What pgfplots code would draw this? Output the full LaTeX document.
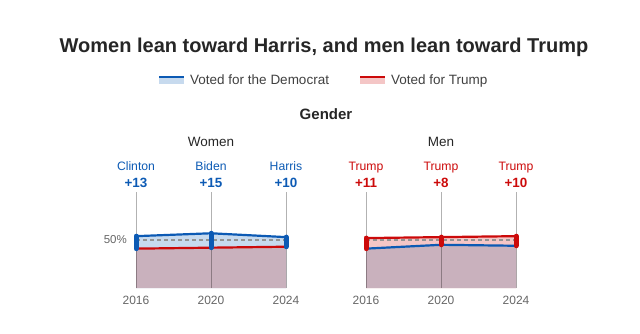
\documentclass[border=0pt]{standalone}
\usepackage{pgfplots}
\pgfplotsset{compat=1.18}
\usepackage{fontspec}
\setmainfont{Liberation Sans}
\definecolor{dblue}{HTML}{0C5AB4}
\definecolor{rred}{HTML}{CC0A0A}
\definecolor{lblue}{HTML}{C7DAEE}
\definecolor{lpink}{HTML}{F4C6C6}
\definecolor{mauve}{HTML}{C9B1BD}
\definecolor{titlec}{HTML}{262626}
\definecolor{txt}{HTML}{404040}
\definecolor{yearc}{HTML}{666666}
\pgfplotsset{panel/.style={
  scale only axis, width=150pt, height=96pt,
  xmin=2016, xmax=2024, ymin=0, ymax=100,
  axis line style={draw=none}, tick style={draw=none},
  xtick={2016,2020,2024}, xticklabels={2016,2020,2024},
  xticklabel style={font=\fontsize{12}{14}\selectfont, text=yearc, anchor=center, yshift=-12pt},
  ytick=\empty, clip=false,
  /pgf/number format/assume math mode=true}}
\begin{document}
\begin{tikzpicture}
\path[use as bounding box] (0pt,0pt) rectangle (640pt,-334pt);
\node[font=\fontsize{20}{23}\selectfont\bfseries, text=titlec] at (324pt,-47pt) {Women lean toward Harris, and men lean toward Trump};
% legend
\fill[lblue] (159pt,-78pt) rectangle (184pt,-84.5pt);
\draw[dblue, line width=2pt] (159pt,-77.5pt)--(184pt,-77.5pt);
\node[anchor=base west, font=\fontsize{13.5}{16}\selectfont, text=txt, inner sep=0pt] at (190pt,-85pt) {Voted for the Democrat};
\fill[lpink] (360pt,-78pt) rectangle (385pt,-84.5pt);
\draw[rred, line width=2pt] (360pt,-77.5pt)--(385pt,-77.5pt);
\node[anchor=base west, font=\fontsize{13.5}{16}\selectfont, text=txt, inner sep=0pt] at (391pt,-85pt) {Voted for Trump};
\node[font=\fontsize{15}{18}\selectfont\bfseries, text=titlec] at (326pt,-114pt) {Gender};
\node[font=\fontsize{13.5}{16}\selectfont, text=titlec] at (211pt,-142pt) {Women};
\node[font=\fontsize{13.5}{16}\selectfont, text=titlec] at (441pt,-142pt) {Men};

% Women
\begin{axis}[panel, at={(136pt,-288pt)}, anchor=south west,
  ytick={50}, yticklabels={50\%},
  yticklabel style={font=\fontsize{11.5}{14}\selectfont, text=yearc, anchor=east, inner sep=0pt, xshift=-9pt}]
\addplot[fill=lblue, draw=none] coordinates {(2016,54)(2020,57)(2024,53)} \closedcycle;
\addplot[fill=mauve, draw=none] coordinates {(2016,41)(2020,42)(2024,43)} \closedcycle;
\addplot[black, opacity=0.3, line width=0.6pt] coordinates {(2016,0)(2016,100)};
\addplot[black, opacity=0.3, line width=0.6pt] coordinates {(2020,0)(2020,100)};
\addplot[black, opacity=0.3, line width=0.6pt] coordinates {(2024,0)(2024,100)};
\addplot[gray!85, dash pattern=on 4pt off 3pt, line width=1.1pt] coordinates {(2016,50)(2024,50)};
\addplot[rred, line width=2.2pt] coordinates {(2016,41)(2020,42)(2024,43)};
\addplot[dblue, line width=2.2pt] coordinates {(2016,54)(2020,57)(2024,53)};
\addplot[dblue, line width=5pt, line cap=round] coordinates {(2016,41)(2016,54)};
\addplot[dblue, line width=5pt, line cap=round] coordinates {(2020,42)(2020,57)};
\addplot[dblue, line width=5pt, line cap=round] coordinates {(2024,43)(2024,53)};
\node[anchor=base, yshift=22pt, font=\fontsize{12.2}{14}\selectfont, text=dblue] at (axis cs:2016,100) {Clinton};
\node[anchor=base, yshift=22pt, font=\fontsize{12.2}{14}\selectfont, text=dblue] at (axis cs:2020,100) {Biden};
\node[anchor=base, yshift=22pt, font=\fontsize{12.2}{14}\selectfont, text=dblue] at (axis cs:2024,100) {Harris};
\node[anchor=base, yshift=5pt, font=\fontsize{13.4}{16}\selectfont\bfseries, text=dblue] at (axis cs:2016,100) {+13};
\node[anchor=base, yshift=5pt, font=\fontsize{13.4}{16}\selectfont\bfseries, text=dblue] at (axis cs:2020,100) {+15};
\node[anchor=base, yshift=5pt, font=\fontsize{13.4}{16}\selectfont\bfseries, text=dblue] at (axis cs:2024,100) {+10};
\end{axis}

% Men
\begin{axis}[panel, at={(366pt,-288pt)}, anchor=south west]
\addplot[fill=lpink, draw=none] coordinates {(2016,52)(2020,53)(2024,54)} \closedcycle;
\addplot[fill=mauve, draw=none] coordinates {(2016,41)(2020,45)(2024,44)} \closedcycle;
\addplot[black, opacity=0.3, line width=0.6pt] coordinates {(2016,0)(2016,100)};
\addplot[black, opacity=0.3, line width=0.6pt] coordinates {(2020,0)(2020,100)};
\addplot[black, opacity=0.3, line width=0.6pt] coordinates {(2024,0)(2024,100)};
\addplot[gray!85, dash pattern=on 4pt off 3pt, line width=1.1pt] coordinates {(2016,50)(2024,50)};
\addplot[dblue, line width=2.2pt] coordinates {(2016,41)(2020,45)(2024,44)};
\addplot[rred, line width=2.2pt] coordinates {(2016,52)(2020,53)(2024,54)};
\addplot[rred, line width=5pt, line cap=round] coordinates {(2016,41)(2016,52)};
\addplot[rred, line width=5pt, line cap=round] coordinates {(2020,45)(2020,53)};
\addplot[rred, line width=5pt, line cap=round] coordinates {(2024,44)(2024,54)};
\node[anchor=base, yshift=22pt, font=\fontsize{12.2}{14}\selectfont, text=rred] at (axis cs:2016,100) {Trump};
\node[anchor=base, yshift=22pt, font=\fontsize{12.2}{14}\selectfont, text=rred] at (axis cs:2020,100) {Trump};
\node[anchor=base, yshift=22pt, font=\fontsize{12.2}{14}\selectfont, text=rred] at (axis cs:2024,100) {Trump};
\node[anchor=base, yshift=5pt, font=\fontsize{13.4}{16}\selectfont\bfseries, text=rred] at (axis cs:2016,100) {+11};
\node[anchor=base, yshift=5pt, font=\fontsize{13.4}{16}\selectfont\bfseries, text=rred] at (axis cs:2020,100) {+8};
\node[anchor=base, yshift=5pt, font=\fontsize{13.4}{16}\selectfont\bfseries, text=rred] at (axis cs:2024,100) {+10};
\end{axis}
\end{tikzpicture}
\end{document}
